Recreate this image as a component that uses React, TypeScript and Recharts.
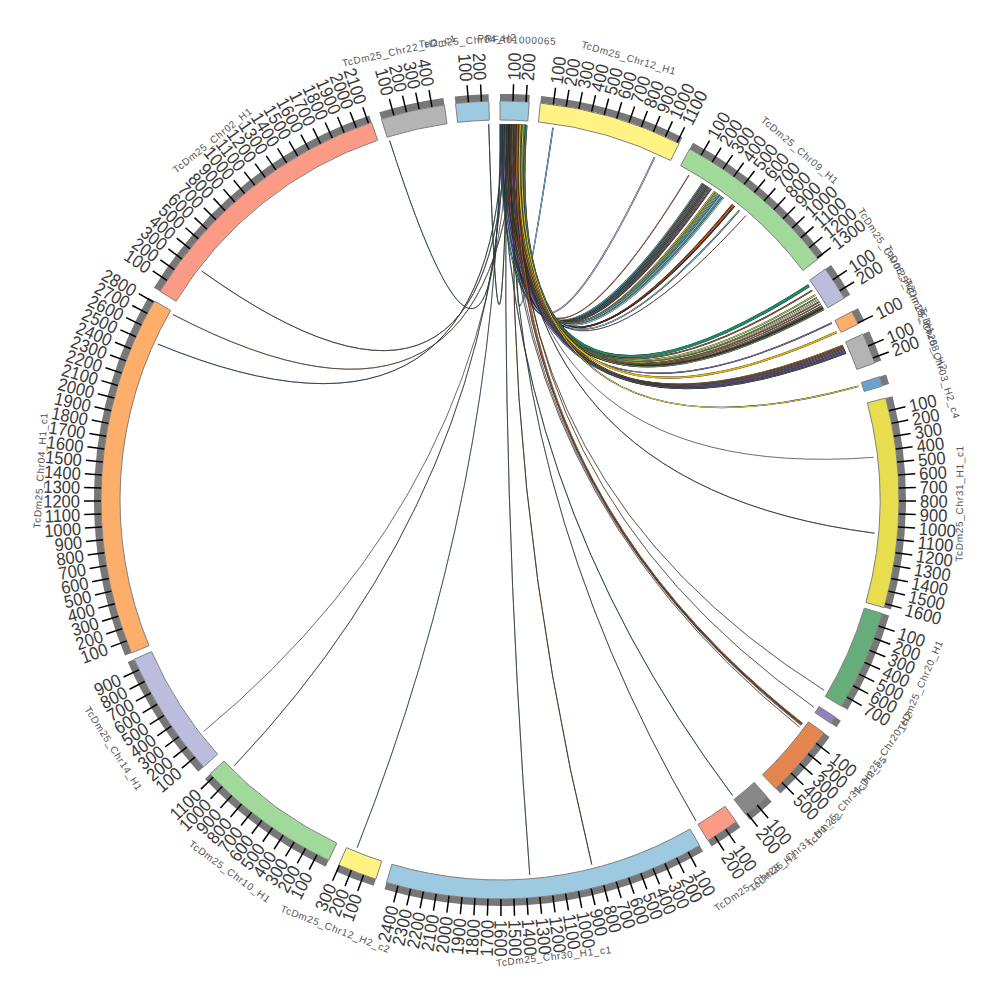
import { Cell, Line, LineChart, Pie, PieChart, XAxis, YAxis } from "recharts";

const segmentNames = [
  "PRFA01000065", "TcDm25_Chr12_H1", "TcDm25_Chr09_H1", "TcDm25_Chr05_H2", "TcDm25_Chr18_H1",
  "TcDm25_Chr08_H2", "TcDm25_Chr03_H2_c4", "TcDm25_Chr31_H1_c1", "TcDm25_Chr20_H1", "TcDm25_Chr20_H2",
  "TcDm25_Chr31_H2_c5", "TcDm25_Chr31_H1_c2", "TcDm25_Chr28_H1", "TcDm25_Chr30_H1_c1", "TcDm25_Chr12_H2_c2",
  "TcDm25_Chr10_H1", "TcDm25_Chr14_H1", "TcDm25_Chr04_H1_c1", "TcDm25_Chr02_H1", "TcDm25_Chr22_H2_c1",
  "TcDm25_Chr04_H2",
];
const segmentLengths = [
  225, 1118, 1310, 267, 107, 240, 75, 1631, 781, 59, 567, 214, 262, 2492, 305, 1134, 989, 2810, 2125, 497, 257,
];
const gapsAfter = [86, 91, 96, 118, 86, 112, 96, 48, 96, 91, 91, 91, 75, 86, 86, 75, 53, 86, 80, 86, 86];
const segmentColors = [
  "#9ecae1", "#fff383", "#a1d99b", "#bcbddc", "#fdae6b", "#b4b4b4", "#6ba3d0", "#e8dd4f", "#66ad7b", "#9080c0",
  "#e5854f", "#888888", "#fb9a85", "#9ecae1", "#fff383", "#a1d99b", "#bcbddc", "#fdae6b", "#fb9a85", "#b4b4b4",
  "#9ecae1",
];

const chordSegments = [
  1, 1,
  2, 2, 2, 2, 2, 2, 2, 2, 2, 2, 2, 2, 2, 2, 2, 2, 2, 2, 2, 2, 2,
  3, 3, 3, 3, 3, 3, 3, 3, 3, 3,
  4, 4,
  5, 5, 5, 5, 5, 5, 5, 5,
  6, 7, 7, 8, 9, 10, 10, 10, 10, 11, 12, 13, 13, 14, 15, 16, 17, 17, 18, 19, 20,
];
const chordPositions = [
  123, 989,
  96, 225, 236, 247, 258, 270, 282, 295, 310, 345, 358, 375, 392, 406, 420, 432, 525, 535, 547, 599, 668,
  32, 80, 125, 150, 170, 190, 210, 232, 248, 262,
  5, 90,
  16, 26, 36, 46, 56, 66, 76, 84,
  21, 444, 1064, 743, 27, 40, 50, 60, 78, 203, 262, 1364, 850, 225, 1048, 214, 2790, 2519, 320, 12, 251,
];
const chordSources = [
  208, 196,
  186, 8, 152, 28, 120, 60, 170, 42, 100, 214, 136, 76, 160, 14, 92, 110, 178, 128, 52, 202, 146,
  200, 116, 20, 174, 88, 140, 66, 216, 36, 104,
  32, 164,
  48, 124, 12, 148, 24, 96, 4, 84,
  190, 70, 112, 134, 156, 142, 118, 80, 56, 18, 94, 58, 126, 2, 38, 72, 130, 22, 44, 6, 64,
];
const chordColors = [
  "#6baed6", "#a9a6d0",
  "#e5854f", "#5a9e8f", "#8a4a3a", "#3c7ca8", "#a0523d", "#2f6f5f", "#8c5a3c", "#4a6fa0", "#7d4030", "#c7c73a",
  "#8faa55", "#6f9f9f", "#4f8f8f", "#8fc4d0", "#5f9fb0", "#9fd0d8", "#8a3a20", "#e5702a", "#5a3020", "#7ab8d6",
  "#8a4030",
  "#1e8a6a", "#8c5a3c", "#a8c85a", "#6f8f4f", "#d0d890", "#8f6a4a", "#b0604a", "#5a6a4a", "#3a3a3a", "#7a8a5a",
  "#8478b8", "#e8b810",
  "#8a6a3a", "#a06a3a", "#6a5a70", "#8a7040", "#7060a8", "#6a58a0", "#7a6fb8", "#505a50",
  "#d8d050", "#444444", "#555555", "#8a4a30", "#8a4020", "#e08040", "#a05a30", "#333333", "#666666", "#35688a",
  "#3a5a3a", "#4f7f5a", "#8a5a30", "#2f6f9a", "#2f5f7f", "#333333", "#b0703a", "#2f5f8f", "#777777", "#3f6f8f",
  "#4a6a4a",
];
const chordWidths = [
  1, 1.2,
  0.6, 1.2, 1.1, 1.1, 1.1, 1.2, 1.1, 1.1, 1.1, 1.1, 1.1, 1.1, 1.1, 1.1, 1.1, 1.1, 1, 1.1, 1, 1, 0.3,
  2.6, 1.1, 1.1, 1, 1, 1, 0.8, 1.6, 1.3, 1,
  0.9, 1.7,
  1.2, 1.2, 1.2, 1.2, 1.2, 1.2, 1.2, 1.2,
  1, 0.1, 0.4, 0.2, 0.2, 0.7, 0.7, 0.1, 0.2, 0.4, 0.3, 0.4, 0.5, 0.3, 0.3, 0.1, 0.4, 0.4, 0.5, 0.4, 0.5,
];

const SIZE = 1000;
const CENTER = 500;
const CHORD_RADIUS = 376;
const CONTROL_Y = 485;

const totalUnits = segmentLengths.reduce((a, b) => a + b, 0) + gapsAfter.reduce((a, b) => a + b, 0);

const segmentStart = (index: number) => {
  let sum = 0;
  for (let i = 0; i < index; i++) sum += segmentLengths[i] + gapsAfter[i];
  return sum;
};

// position on the ring -> point on the chord circle
const chordPoint = (segment: number, pos: number) => {
  const theta = (((segmentStart(segment) + pos) / totalUnits) * 360 * Math.PI) / 180;
  return { x: CENTER + CHORD_RADIUS * Math.sin(theta), y: CENTER - CHORD_RADIUS * Math.cos(theta) };
};

const chords = chordSegments.map((segment, i) => ({
  points: [chordPoint(0, chordSources[i]), { x: CENTER, y: CONTROL_Y }, chordPoint(segment, chordPositions[i])],
  color: chordColors[i],
  width: chordWidths[i],
}));

// quadratic bezier through the three points of a chord
const quadCurve = (context: any) => {
  let pts: number[][] = [];
  return {
    areaStart() {},
    areaEnd() {},
    lineStart() {
      pts = [];
    },
    lineEnd() {
      context.moveTo(pts[0][0], pts[0][1]);
      context.quadraticCurveTo(pts[1][0], pts[1][1], pts[2][0], pts[2][1]);
    },
    point(x: number, y: number) {
      pts.push([x, y]);
    },
  };
};

const ringData = segmentLengths.flatMap((len, i) => [
  { name: segmentNames[i], value: len, index: i },
  { name: "", value: gapsAfter[i], index: -1 },
]);

const tickData = segmentLengths.flatMap((len, i) => {
  const rows: { value: number; tick?: number }[] = [];
  for (let t = 100; t <= len; t += 100) rows.push({ value: 100, tick: t });
  rows.push({ value: len % 100 });
  rows.push({ value: gapsAfter[i] });
  return rows;
});

const polar = (theta: number, r: number) => {
  const a = (theta * Math.PI) / 180;
  return { x: CENTER + r * Math.sin(a), y: CENTER - r * Math.cos(a) };
};

const renderTick = (props: any) => {
  if (!props.tick) return <g />;
  const theta = 90 - props.endAngle;
  const from = polar(theta, 399);
  const to = polar(theta, 416);
  const at = polar(theta, 420);
  const right = theta < 180;
  return (
    <g>
      <line x1={from.x} y1={from.y} x2={to.x} y2={to.y} stroke="#000" strokeWidth={1.5} />
      <text
        x={0}
        y={0}
        dy={6.5}
        fontSize={18}
        fontFamily="Liberation Sans"
        fill="#3a3a3a"
        textAnchor={right ? "start" : "end"}
        transform={`translate(${at.x} ${at.y}) rotate(${right ? theta - 90 : theta + 90}) scale(0.92 1)`}
      >
        {props.tick}
      </text>
    </g>
  );
};

const renderName = (props: any) => {
  if (!props.name) return <g />;
  const theta = 90 - props.midAngle;
  const at = polar(theta, 460);
  const flip = theta > 90 && theta < 270;
  const angle = flip ? theta - 180 : theta > 270 ? theta - 360 : theta;
  return (
    <text
      x={at.x}
      y={at.y}
      dy={3}
      fontSize={10}
      letterSpacing={0.7}
      fontFamily="Liberation Sans"
      fill="#555"
      textAnchor="middle"
      transform={`rotate(${angle} ${at.x} ${at.y})`}
    >
      {props.name}
    </text>
  );
};

export default function App() {
  return (
    <div style={{ position: "absolute", left: 0, top: 0, width: SIZE, height: SIZE, background: "#fff" }}>
      <div style={{ position: "absolute", left: 0, top: 0 }}>
        <LineChart width={SIZE} height={SIZE} margin={{ top: 0, right: 0, left: 0, bottom: 0 }}>
          <XAxis type="number" dataKey="x" domain={[0, SIZE]} hide />
          <YAxis type="number" domain={[0, SIZE]} reversed hide />
          {chords.flatMap((c, i) => [
            <Line
              key={`o${i}`}
              data={c.points}
              dataKey="y"
              type={quadCurve as any}
              stroke="#1a1a1a"
              strokeWidth={c.width + 0.5}
              dot={false}
              isAnimationActive={false}
            />,
            <Line
              key={`c${i}`}
              data={c.points}
              dataKey="y"
              type={quadCurve as any}
              stroke={c.color}
              strokeWidth={c.width}
              dot={false}
              isAnimationActive={false}
            />,
          ])}
        </LineChart>
      </div>
      <div style={{ position: "absolute", left: 0, top: 0 }}>
        <PieChart width={SIZE} height={SIZE} margin={{ top: 0, right: 0, left: 0, bottom: 0 }}>
          <Pie
            data={ringData}
            dataKey="value"
            cx={CENTER}
            cy={CENTER}
            innerRadius={399}
            outerRadius={406}
            startAngle={90}
            endAngle={-270}
            stroke="none"
            isAnimationActive={false}
          >
            {ringData.map((d, i) => (
              <Cell key={i} fill={d.index < 0 ? "none" : "#777777"} />
            ))}
          </Pie>
          <Pie
            data={ringData}
            dataKey="value"
            cx={CENTER}
            cy={CENTER}
            innerRadius={380}
            outerRadius={399}
            startAngle={90}
            endAngle={-270}
            label={renderName}
            labelLine={false}
            isAnimationActive={false}
          >
            {ringData.map((d, i) => (
              <Cell
                key={i}
                fill={d.index < 0 ? "none" : segmentColors[d.index]}
                stroke={d.index < 0 ? "none" : "#808080"}
                strokeWidth={1}
              />
            ))}
          </Pie>
          <Pie
            data={tickData}
            dataKey="value"
            cx={CENTER}
            cy={CENTER}
            innerRadius={399}
            outerRadius={406}
            startAngle={90}
            endAngle={-270}
            fill="none"
            stroke="none"
            label={renderTick}
            labelLine={false}
            isAnimationActive={false}
          />
        </PieChart>
      </div>
    </div>
  );
}
